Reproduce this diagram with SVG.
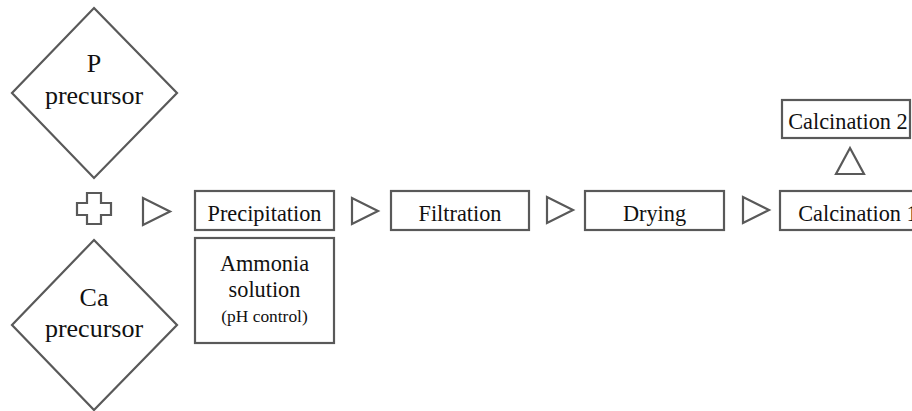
<svg xmlns="http://www.w3.org/2000/svg" width="912" height="411" viewBox="0 0 912 411">
<style>
.shape{fill:#ffffff;stroke:#595959;stroke-width:2.2}
.sym{fill:none;stroke:#595959;stroke-width:2.2;stroke-linejoin:miter}
text{font-family:'Liberation Serif','Times New Roman','DejaVu Serif',serif;fill:#111111;text-anchor:middle}
.big{font-size:26px}
.mid{font-size:22.3px}
.small{font-size:17.4px}
</style>
<rect x="0" y="0" width="912" height="411" fill="#ffffff"/>
<g id="p-precursor">
<polygon class="shape" points="94,8 177,93 94,178 12,93"/>
<text class="big" x="94" y="72" font-family="Liberation Serif, serif">P</text>
<text class="big" x="94" y="104" font-family="Liberation Serif, serif">precursor</text>
</g>
<g id="ca-precursor">
<polygon class="shape" points="94,240 177,325 94,410 12,325"/>
<text class="big" x="94" y="306" font-family="Liberation Serif, serif">Ca</text>
<text class="big" x="94" y="337" font-family="Liberation Serif, serif">precursor</text>
</g>
<g id="precipitation">
<rect class="shape" x="195" y="191" width="139" height="39"/>
<text class="mid" x="264.5" y="221" font-family="Liberation Serif, serif">Precipitation</text>
</g>
<g id="ammonia">
<rect class="shape" x="195" y="238" width="139" height="105"/>
<text class="mid" x="264.5" y="271" font-family="Liberation Serif, serif">Ammonia</text>
<text class="mid" x="264.5" y="297" font-family="Liberation Serif, serif">solution</text>
<text class="small" x="264.5" y="322" font-family="Liberation Serif, serif">(pH control)</text>
</g>
<g id="filtration">
<rect class="shape" x="391" y="191" width="138" height="39"/>
<text class="mid" x="460" y="221" font-family="Liberation Serif, serif">Filtration</text>
</g>
<g id="drying">
<rect class="shape" x="585" y="191" width="139" height="39"/>
<text class="mid" x="654.5" y="221" font-family="Liberation Serif, serif">Drying</text>
</g>
<g id="calcination1">
<rect class="shape" x="780" y="191" width="156" height="39"/>
<text class="mid" x="858" y="221" font-family="Liberation Serif, serif">Calcination 1</text>
</g>
<g id="calcination2">
<rect class="shape" x="782" y="100" width="128" height="38"/>
<text class="mid" x="848" y="129" font-family="Liberation Serif, serif">Calcination 2</text>
</g>
<g id="connectors">
<path class="sym" d="M87,193 H101 V203 H111 V215 H101 V224 H87 V215 H77 V203 H87 Z"/>
<polygon class="sym" points="143,198 143,225 170,211.5"/>
<polygon class="sym" points="352,198 352,224 378,211"/>
<polygon class="sym" points="547,197 547,223 573,210"/>
<polygon class="sym" points="743,197 743,223 769,210"/>
<polygon class="sym" points="836,174 864,174 850,148"/>
</g>
</svg>
